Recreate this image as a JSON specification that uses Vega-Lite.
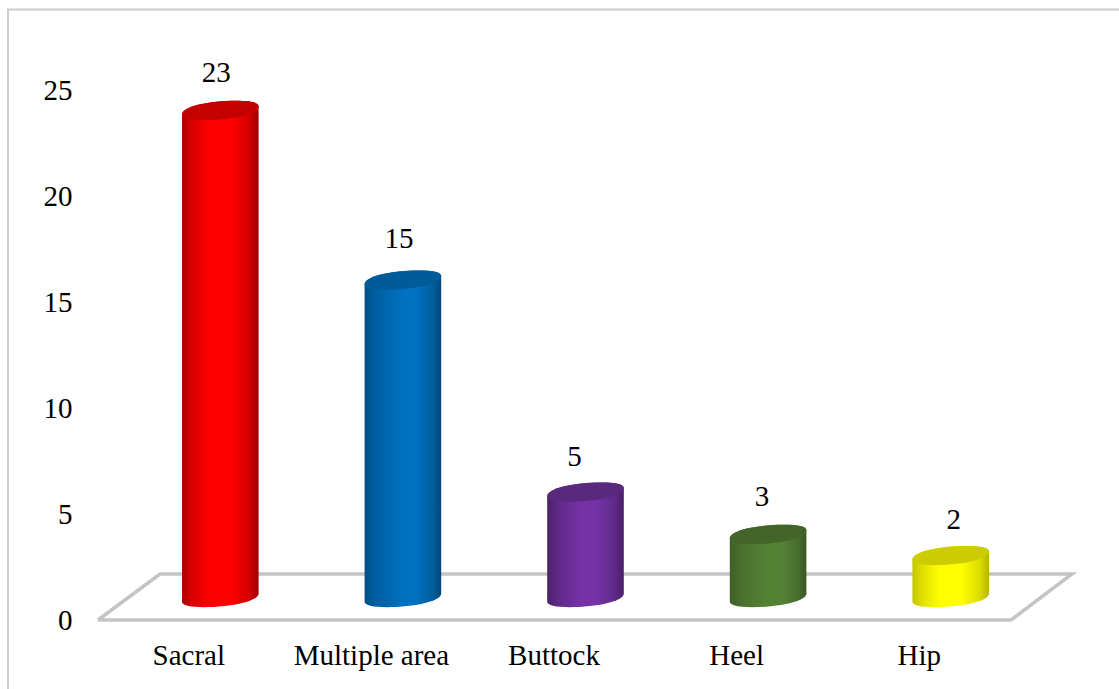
{
"$schema":"https://vega.github.io/schema/vega-lite/v6.json",
"autosize":"none","width":913,"height":530,
"padding":{"left":98,"top":90,"right":108,"bottom":69},
"background":"white","view":{"stroke":null},
"config":{"font":"Liberation Serif"},
"data":{"values":[{"site":"Sacral","count":23},{"site":"Multiple area","count":15},{"site":"Buttock","count":5},{"site":"Heel","count":3},{"site":"Hip","count":2}]},
"resolve":{"scale":{"x":"independent"}},
"layer":[
{"data":{"values":[
{"part":"floor","o":0,"px":0,"v":0},{"part":"floor","o":1,"px":62,"v":2.17},{"part":"floor","o":2,"px":974,"v":2.17},{"part":"floor","o":3,"px":913,"v":0},{"part":"floor","o":4,"px":0,"v":0},
{"part":"frame","o":0,"px":-90,"v":-3.3},{"part":"frame","o":1,"px":-90,"v":28.8},{"part":"frame","o":2,"px":1021,"v":28.8}
]},
"mark":{"type":"line","clip":false,"strokeJoin":"miter","interpolate":"linear"},
"encoding":{
"x":{"field":"px","type":"quantitative","scale":{"domain":[0,913],"nice":false,"zero":false},"axis":null},
"y":{"field":"v","type":"quantitative","scale":{"domain":[0,25],"nice":false,"zero":false},
"axis":{"title":null,"domain":false,"ticks":false,"grid":false,"values":[0,5,10,15,20,25],"labelFontSize":29,"labelColor":"#000000","labelFont":"Liberation Serif","labelPadding":26,"labelOffset":0.8}},
"order":{"field":"o","type":"ordinal"},
"detail":{"field":"part"},
"strokeWidth":{"field":"part","type":"nominal","scale":{"domain":["floor","frame"],"range":[3.5,2]},"legend":null},
"color":{"field":"part","type":"nominal","scale":{"domain":["floor","frame"],"range":["#c4c4c4","#cccccc"]},"legend":null}
}},
{"encoding":{
"x":{"field":"site","type":"nominal","sort":null,"scale":{"type":"band","domain":["Sacral","Multiple area","Buttock","Heel","Hip"],"paddingInner":0,"paddingOuter":0},
"axis":{"title":null,"domain":false,"ticks":false,"labelAngle":0,"labelFontSize":29,"labelColor":"#000000","labelFont":"Liberation Serif","labelPadding":21,"labelOffset":-0.5,"labelOverlap":false}},
"y":{"field":"count","type":"quantitative"}
},
"layer":[
{"transform":[{"filter":"datum.site==='Sacral'"}],"layer":[
{"mark":{"type":"bar","size":76.58,"xOffset":31,"yOffset":-18,"y2Offset":-26.5,"fill":{"gradient":"linear","x1":0,"x2":1,"y1":0,"y2":0,"stops":[{"offset":0,"color":"#a80000"},{"offset":0.12,"color":"#d80000"},{"offset":0.36,"color":"#ff0000"},{"offset":0.64,"color":"#ff0000"},{"offset":0.88,"color":"#d40000"},{"offset":1,"color":"#a00000"}]}},"encoding":{"y2":{"datum":0}}},
{"mark":{"type":"point","filled":true,"opacity":1,"size":5929,"xOffset":31,"yOffset":-22.5,"shape":"M0.9945,-0.1045 C0.9945,0.1,0.28,0.25,-0.41,0.25 C-0.78,0.25,-0.9945,0.21,-0.9945,0.1045 L-0.9945,-0.12 L0.9945,-0.12Z","fill":{"gradient":"linear","x1":0,"x2":1,"y1":0,"y2":0,"stops":[{"offset":0,"color":"#a80000"},{"offset":0.12,"color":"#d80000"},{"offset":0.36,"color":"#ff0000"},{"offset":0.64,"color":"#ff0000"},{"offset":0.88,"color":"#d40000"},{"offset":1,"color":"#a00000"}]}},"encoding":{"y":{"datum":0}}},
{"mark":{"type":"point","filled":true,"opacity":1,"size":5929,"xOffset":31,"yOffset":-22,"shape":"M-0.9945,0.1045 C-0.9945,-0.1,-0.28,-0.25,0.41,-0.25 C0.78,-0.25,0.9945,-0.21,0.9945,-0.1045 L0.9945,0.12 L-0.9945,0.12Z","fill":{"gradient":"linear","x1":0,"x2":1,"y1":0,"y2":0,"stops":[{"offset":0,"color":"#a80000"},{"offset":0.12,"color":"#d80000"},{"offset":0.36,"color":"#ff0000"},{"offset":0.64,"color":"#ff0000"},{"offset":0.88,"color":"#d40000"},{"offset":1,"color":"#a00000"}]}}},
{"mark":{"type":"point","filled":true,"opacity":1,"size":5929,"xOffset":31,"yOffset":-22,"color":"#c40000","shape":"M-0.9945,0.1045 C-0.9945,-0.1,-0.28,-0.25,0.41,-0.25 C0.78,-0.25,0.9945,-0.21,0.9945,-0.1045 C0.9945,0.1,0.28,0.25,-0.41,0.25 C-0.78,0.25,-0.9945,0.21,-0.9945,0.1045Z"}},
{"mark":{"type":"text","fontSize":29,"color":"#000000","xOffset":27,"yOffset":-59},"encoding":{"text":{"field":"count"}}}
]},
{"transform":[{"filter":"datum.site==='Multiple area'"}],"layer":[
{"mark":{"type":"bar","size":76.58,"xOffset":31,"yOffset":-18,"y2Offset":-26.5,"fill":{"gradient":"linear","x1":0,"x2":1,"y1":0,"y2":0,"stops":[{"offset":0,"color":"#00508a"},{"offset":0.14,"color":"#005f9f"},{"offset":0.5,"color":"#0070c0"},{"offset":0.68,"color":"#0070c0"},{"offset":0.88,"color":"#005f9f"},{"offset":1,"color":"#004878"}]}},"encoding":{"y2":{"datum":0}}},
{"mark":{"type":"point","filled":true,"opacity":1,"size":5929,"xOffset":31,"yOffset":-22.5,"shape":"M0.9945,-0.1045 C0.9945,0.1,0.28,0.25,-0.41,0.25 C-0.78,0.25,-0.9945,0.21,-0.9945,0.1045 L-0.9945,-0.12 L0.9945,-0.12Z","fill":{"gradient":"linear","x1":0,"x2":1,"y1":0,"y2":0,"stops":[{"offset":0,"color":"#00508a"},{"offset":0.14,"color":"#005f9f"},{"offset":0.5,"color":"#0070c0"},{"offset":0.68,"color":"#0070c0"},{"offset":0.88,"color":"#005f9f"},{"offset":1,"color":"#004878"}]}},"encoding":{"y":{"datum":0}}},
{"mark":{"type":"point","filled":true,"opacity":1,"size":5929,"xOffset":31,"yOffset":-22,"shape":"M-0.9945,0.1045 C-0.9945,-0.1,-0.28,-0.25,0.41,-0.25 C0.78,-0.25,0.9945,-0.21,0.9945,-0.1045 L0.9945,0.12 L-0.9945,0.12Z","fill":{"gradient":"linear","x1":0,"x2":1,"y1":0,"y2":0,"stops":[{"offset":0,"color":"#00508a"},{"offset":0.14,"color":"#005f9f"},{"offset":0.5,"color":"#0070c0"},{"offset":0.68,"color":"#0070c0"},{"offset":0.88,"color":"#005f9f"},{"offset":1,"color":"#004878"}]}}},
{"mark":{"type":"point","filled":true,"opacity":1,"size":5929,"xOffset":31,"yOffset":-22,"color":"#005c99","shape":"M-0.9945,0.1045 C-0.9945,-0.1,-0.28,-0.25,0.41,-0.25 C0.78,-0.25,0.9945,-0.21,0.9945,-0.1045 C0.9945,0.1,0.28,0.25,-0.41,0.25 C-0.78,0.25,-0.9945,0.21,-0.9945,0.1045Z"}},
{"mark":{"type":"text","fontSize":29,"color":"#000000","xOffset":27,"yOffset":-63},"encoding":{"text":{"field":"count"}}}
]},
{"transform":[{"filter":"datum.site==='Buttock'"}],"layer":[
{"mark":{"type":"bar","size":76.58,"xOffset":31,"yOffset":-18,"y2Offset":-26.5,"fill":{"gradient":"linear","x1":0,"x2":1,"y1":0,"y2":0,"stops":[{"offset":0,"color":"#4a2069"},{"offset":0.14,"color":"#5f2a88"},{"offset":0.42,"color":"#7432a6"},{"offset":0.64,"color":"#7432a6"},{"offset":0.88,"color":"#5f2a88"},{"offset":1,"color":"#481f66"}]}},"encoding":{"y2":{"datum":0}}},
{"mark":{"type":"point","filled":true,"opacity":1,"size":5929,"xOffset":31,"yOffset":-22.5,"shape":"M0.9945,-0.1045 C0.9945,0.1,0.28,0.25,-0.41,0.25 C-0.78,0.25,-0.9945,0.21,-0.9945,0.1045 L-0.9945,-0.12 L0.9945,-0.12Z","fill":{"gradient":"linear","x1":0,"x2":1,"y1":0,"y2":0,"stops":[{"offset":0,"color":"#4a2069"},{"offset":0.14,"color":"#5f2a88"},{"offset":0.42,"color":"#7432a6"},{"offset":0.64,"color":"#7432a6"},{"offset":0.88,"color":"#5f2a88"},{"offset":1,"color":"#481f66"}]}},"encoding":{"y":{"datum":0}}},
{"mark":{"type":"point","filled":true,"opacity":1,"size":5929,"xOffset":31,"yOffset":-22,"shape":"M-0.9945,0.1045 C-0.9945,-0.1,-0.28,-0.25,0.41,-0.25 C0.78,-0.25,0.9945,-0.21,0.9945,-0.1045 L0.9945,0.12 L-0.9945,0.12Z","fill":{"gradient":"linear","x1":0,"x2":1,"y1":0,"y2":0,"stops":[{"offset":0,"color":"#4a2069"},{"offset":0.14,"color":"#5f2a88"},{"offset":0.42,"color":"#7432a6"},{"offset":0.64,"color":"#7432a6"},{"offset":0.88,"color":"#5f2a88"},{"offset":1,"color":"#481f66"}]}}},
{"mark":{"type":"point","filled":true,"opacity":1,"size":5929,"xOffset":31,"yOffset":-22,"color":"#58297c","shape":"M-0.9945,0.1045 C-0.9945,-0.1,-0.28,-0.25,0.41,-0.25 C0.78,-0.25,0.9945,-0.21,0.9945,-0.1045 C0.9945,0.1,0.28,0.25,-0.41,0.25 C-0.78,0.25,-0.9945,0.21,-0.9945,0.1045Z"}},
{"mark":{"type":"text","fontSize":29,"color":"#000000","xOffset":20,"yOffset":-57},"encoding":{"text":{"field":"count"}}}
]},
{"transform":[{"filter":"datum.site==='Heel'"}],"layer":[
{"mark":{"type":"bar","size":76.58,"xOffset":31,"yOffset":-18,"y2Offset":-26.5,"fill":{"gradient":"linear","x1":0,"x2":1,"y1":0,"y2":0,"stops":[{"offset":0,"color":"#3d5f27"},{"offset":0.14,"color":"#486f2d"},{"offset":0.48,"color":"#548235"},{"offset":0.68,"color":"#548235"},{"offset":0.88,"color":"#486f2d"},{"offset":1,"color":"#385623"}]}},"encoding":{"y2":{"datum":0}}},
{"mark":{"type":"point","filled":true,"opacity":1,"size":5929,"xOffset":31,"yOffset":-22.5,"shape":"M0.9945,-0.1045 C0.9945,0.1,0.28,0.25,-0.41,0.25 C-0.78,0.25,-0.9945,0.21,-0.9945,0.1045 L-0.9945,-0.12 L0.9945,-0.12Z","fill":{"gradient":"linear","x1":0,"x2":1,"y1":0,"y2":0,"stops":[{"offset":0,"color":"#3d5f27"},{"offset":0.14,"color":"#486f2d"},{"offset":0.48,"color":"#548235"},{"offset":0.68,"color":"#548235"},{"offset":0.88,"color":"#486f2d"},{"offset":1,"color":"#385623"}]}},"encoding":{"y":{"datum":0}}},
{"mark":{"type":"point","filled":true,"opacity":1,"size":5929,"xOffset":31,"yOffset":-22,"shape":"M-0.9945,0.1045 C-0.9945,-0.1,-0.28,-0.25,0.41,-0.25 C0.78,-0.25,0.9945,-0.21,0.9945,-0.1045 L0.9945,0.12 L-0.9945,0.12Z","fill":{"gradient":"linear","x1":0,"x2":1,"y1":0,"y2":0,"stops":[{"offset":0,"color":"#3d5f27"},{"offset":0.14,"color":"#486f2d"},{"offset":0.48,"color":"#548235"},{"offset":0.68,"color":"#548235"},{"offset":0.88,"color":"#486f2d"},{"offset":1,"color":"#385623"}]}}},
{"mark":{"type":"point","filled":true,"opacity":1,"size":5929,"xOffset":31,"yOffset":-22,"color":"#436529","shape":"M-0.9945,0.1045 C-0.9945,-0.1,-0.28,-0.25,0.41,-0.25 C0.78,-0.25,0.9945,-0.21,0.9945,-0.1045 C0.9945,0.1,0.28,0.25,-0.41,0.25 C-0.78,0.25,-0.9945,0.21,-0.9945,0.1045Z"}},
{"mark":{"type":"text","fontSize":29,"color":"#000000","xOffset":25,"yOffset":-59},"encoding":{"text":{"field":"count"}}}
]},
{"transform":[{"filter":"datum.site==='Hip'"}],"layer":[
{"mark":{"type":"bar","size":76.58,"xOffset":31,"yOffset":-18,"y2Offset":-26.5,"fill":{"gradient":"linear","x1":0,"x2":1,"y1":0,"y2":0,"stops":[{"offset":0,"color":"#c4c400"},{"offset":0.12,"color":"#dede00"},{"offset":0.36,"color":"#ffff00"},{"offset":0.64,"color":"#ffff00"},{"offset":0.88,"color":"#dcdc00"},{"offset":1,"color":"#b4b400"}]}},"encoding":{"y2":{"datum":0}}},
{"mark":{"type":"point","filled":true,"opacity":1,"size":5929,"xOffset":31,"yOffset":-22.5,"shape":"M0.9945,-0.1045 C0.9945,0.1,0.28,0.25,-0.41,0.25 C-0.78,0.25,-0.9945,0.21,-0.9945,0.1045 L-0.9945,-0.12 L0.9945,-0.12Z","fill":{"gradient":"linear","x1":0,"x2":1,"y1":0,"y2":0,"stops":[{"offset":0,"color":"#c4c400"},{"offset":0.12,"color":"#dede00"},{"offset":0.36,"color":"#ffff00"},{"offset":0.64,"color":"#ffff00"},{"offset":0.88,"color":"#dcdc00"},{"offset":1,"color":"#b4b400"}]}},"encoding":{"y":{"datum":0}}},
{"mark":{"type":"point","filled":true,"opacity":1,"size":5929,"xOffset":31,"yOffset":-22,"shape":"M-0.9945,0.1045 C-0.9945,-0.1,-0.28,-0.25,0.41,-0.25 C0.78,-0.25,0.9945,-0.21,0.9945,-0.1045 L0.9945,0.12 L-0.9945,0.12Z","fill":{"gradient":"linear","x1":0,"x2":1,"y1":0,"y2":0,"stops":[{"offset":0,"color":"#c4c400"},{"offset":0.12,"color":"#dede00"},{"offset":0.36,"color":"#ffff00"},{"offset":0.64,"color":"#ffff00"},{"offset":0.88,"color":"#dcdc00"},{"offset":1,"color":"#b4b400"}]}}},
{"mark":{"type":"point","filled":true,"opacity":1,"size":5929,"xOffset":31,"yOffset":-22,"color":"#cccc00","shape":"M-0.9945,0.1045 C-0.9945,-0.1,-0.28,-0.25,0.41,-0.25 C0.78,-0.25,0.9945,-0.21,0.9945,-0.1045 C0.9945,0.1,0.28,0.25,-0.41,0.25 C-0.78,0.25,-0.9945,0.21,-0.9945,0.1045Z"}},
{"mark":{"type":"text","fontSize":29,"color":"#000000","xOffset":34,"yOffset":-58},"encoding":{"text":{"field":"count"}}}
]}
]}
]
}
